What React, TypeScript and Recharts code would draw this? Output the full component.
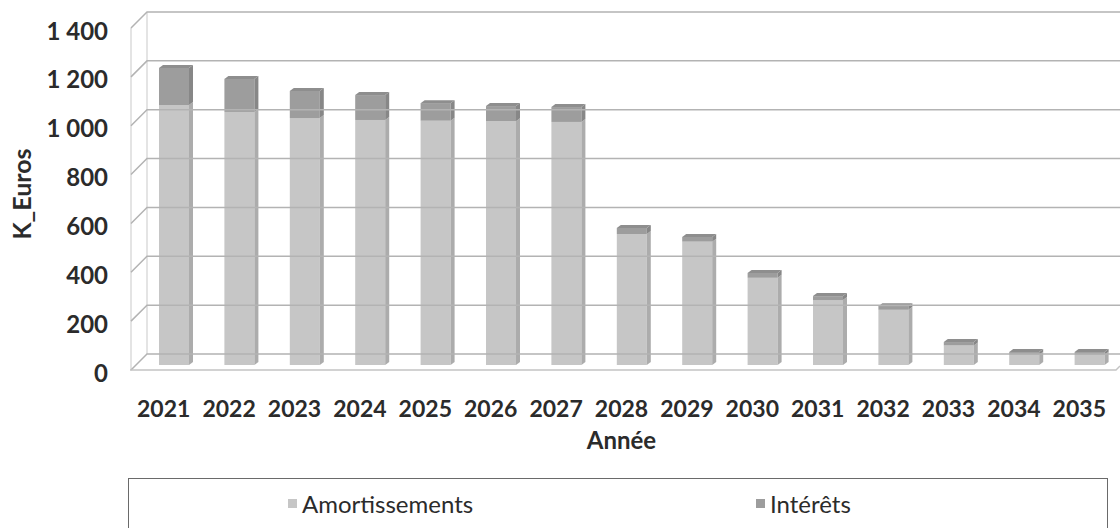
import React from 'react';
import { BarChart, Bar, XAxis, YAxis, ReferenceLine, ReferenceArea, Legend } from 'recharts';

const years = ['2021', '2022', '2023', '2024', '2025', '2026', '2027', '2028', '2029', '2030', '2031', '2032', '2033', '2034', '2035'];
const amortissements = [1064, 1036, 1011, 1003, 1000, 998, 995, 536, 505, 357, 266, 226, 80, 42, 42];
const interets = [152, 135, 111, 102, 72, 62, 61, 25, 19, 20, 16, 15, 14, 11, 11];
const yTicks = [0, 200, 400, 600, 800, 1000, 1200, 1400];

const data = years.map((year, i) => ({ year, amort: amortissements[i], interets: interets[i] }));

const FONT = 'Lato, "Open Sans", sans-serif';
const TEXT = '#2b2b2b';
const GRID = '#b3b3b3';
const DEPTH_X = 16;
const DEPTH_Y = 16;
const BAR_DX = 10;
const BD = 4;
const BDY = 3;

const fmt = (v: number) => {
  const s = String(v);
  return s.length > 3 ? s.slice(0, s.length - 3) + '\u00a0' + s.slice(s.length - 3) : s;
};

const AmortShape = (p: any) => {
  const { x, y, width, height } = p;
  if (!height || height <= 0) return null;
  const fx = x + BAR_DX;
  return (
    <g>
      <rect x={fx} y={y} width={width} height={height} fill="#c6c6c6" />
      <polygon
        points={`${fx + width},${y} ${fx + width + BD},${y - BDY} ${fx + width + BD},${y + height - BDY} ${fx + width},${y + height}`}
        fill="#acacac"
      />
    </g>
  );
};

const InteretShape = (p: any) => {
  const { x, y, width, height } = p;
  if (!height || height <= 0) return null;
  const fx = x + BAR_DX;
  return (
    <g>
      <rect x={fx} y={y} width={width} height={height} fill="#9d9d9d" />
      <polygon
        points={`${fx + width},${y} ${fx + width + BD},${y - BDY} ${fx + width + BD},${y + height - BDY} ${fx + width},${y + height}`}
        fill="#878787"
      />
      <polygon
        points={`${fx},${y} ${fx + BD},${y - BDY} ${fx + width + BD},${y - BDY} ${fx + width},${y}`}
        fill="#8e8e8e"
      />
    </g>
  );
};

const GridShape = (p: any) => {
  const { x1, y1, x2 } = p;
  const isZero = p.isZero;
  return (
    <g>
      <path
        d={`M ${x1} ${y1 + 5} L ${x1 + DEPTH_X} ${y1 + 5 - DEPTH_Y} L ${x2 + 8} ${y1 + 5 - DEPTH_Y}`}
        stroke={GRID}
        strokeWidth={1.5}
        fill="none"
      />
      {isZero && (
        <path d={`M ${x1 - 1} ${y1 + 5} L ${x2 + 4} ${y1 + 5} L ${x2 + 8} ${y1 + 5 - 4}`} stroke="#c4c4c4" strokeWidth={1.5} fill="none" />
      )}
    </g>
  );
};

const WallShape = (p: any) => {
  const { x, y, height } = p;
  return (
    <g stroke="#d2d2d2" strokeWidth={1.2} fill="none">
      <line x1={x} y1={y + 5} x2={x} y2={y + height + 5} />
      <line x1={x + DEPTH_X} y1={y + 5 - DEPTH_Y} x2={x + DEPTH_X} y2={y + height + 5 - DEPTH_Y} />
    </g>
  );
};

const YTick = (p: any) => {
  const { x, y, payload } = p;
  return (
    <text x={x - 23} y={y + 7} textAnchor="end" dominantBaseline="central" fontFamily={FONT} fontWeight={700} fontSize={24} fill={TEXT}>
      {fmt(payload.value)}
    </text>
  );
};

const XTick = (p: any) => {
  const { x, y, payload } = p;
  return (
    <text x={x} y={y + 52} textAnchor="middle" fontFamily={FONT} fontWeight={700} fontSize={23} fill={TEXT}>
      {payload.value}
    </text>
  );
};

const LegendContent = () => (
  <div
    style={{
      position: 'relative',
      width: '100%',
      height: '100%',
      boxSizing: 'border-box',
      border: '1.5px solid #6a6a6a',
      fontFamily: FONT,
      fontSize: 24,
      color: TEXT,
    }}
  >
    <div style={{ position: 'absolute', left: 159, top: 10, display: 'flex', alignItems: 'center' }}>
      <span style={{ width: 9, height: 9, background: '#c6c6c6', marginRight: 5, display: 'inline-block' }} />
      <span>Amortissements</span>
    </div>
    <div style={{ position: 'absolute', left: 627, top: 10, display: 'flex', alignItems: 'center' }}>
      <span style={{ width: 9, height: 9, background: '#9d9d9d', marginRight: 5, display: 'inline-block' }} />
      <span>Intérêts</span>
    </div>
  </div>
);

export default function App() {
  return (
    <div style={{ position: 'absolute', left: 0, top: 0, width: 1120, height: 528, overflow: 'hidden', background: '#fff' }}>
      <BarChart width={1120} height={528} data={data} margin={{ top: 23, right: 8, left: 0, bottom: 0 }} barSize={30}>
        <ReferenceArea y1={0} y2={1400} shape={<WallShape />} ifOverflow="visible" />
        {yTicks.map((v) => (
          <ReferenceLine key={v} y={v} shape={(props: any) => <GridShape {...props} isZero={v === 0} />} ifOverflow="visible" />
        ))}
        <XAxis
          dataKey="year"
          height={163}
          axisLine={false}
          tickLine={false}
          tickSize={0}
          tickMargin={0}
          interval={0}
          tick={<XTick />}
          label={{ value: 'Année', position: 'insideTop', offset: 67, style: { fontFamily: FONT, fontWeight: 700, fontSize: 24, fill: TEXT } }}
        />
        <YAxis
          domain={[0, 1400]}
          ticks={yTicks}
          width={131}
          axisLine={false}
          tickLine={false}
          tickSize={0}
          tickMargin={0}
          tick={<YTick />}
          label={{ value: 'K_Euros', angle: -90, position: 'insideLeft', offset: 22, style: { textAnchor: 'middle', fontFamily: FONT, fontWeight: 700, fontSize: 25, fill: TEXT } }}
        />
        <Legend
          layout="horizontal"
          verticalAlign="middle"
          align="center"
          content={<LegendContent />}
          wrapperStyle={{ left: 128, top: 478, width: 980, height: 60 }}
        />
        <Bar dataKey="amort" name="Amortissements" stackId="a" fill="#c6c6c6" shape={<AmortShape />} isAnimationActive={false} />
        <Bar dataKey="interets" name="Intérêts" stackId="a" fill="#9d9d9d" shape={<InteretShape />} isAnimationActive={false} />
      </BarChart>
    </div>
  );
}
